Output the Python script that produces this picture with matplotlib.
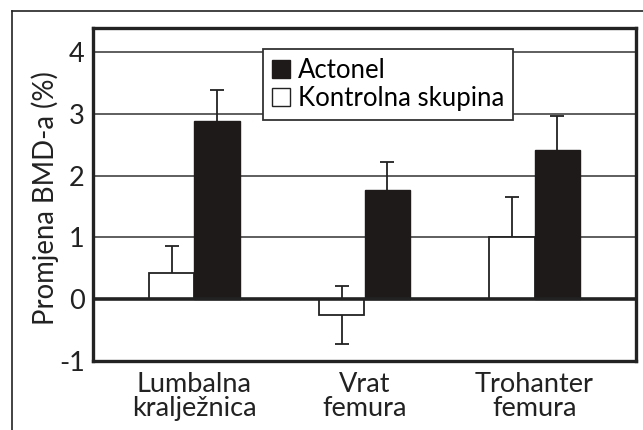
import matplotlib
matplotlib.use("Agg")
import matplotlib.pyplot as plt
from matplotlib.lines import Line2D
import matplotlib.patches as mpatches
import numpy as np

plt.rcParams['font.family'] = ['Lato', 'DejaVu Sans']

kategorije = ['Lumbalna\nkralježnica', 'Vrat\nfemura', 'Trohanter\nfemura']
kontrola = [0.43, -0.26, 1.00]
kontrola_err = [0.43, 0.47, 0.65]
actonel = [2.89, 1.76, 2.42]
actonel_err = [0.49, 0.46, 0.54]
yticks = [-1, 0, 1, 2, 3, 4]

fig = plt.figure(figsize=(6.43, 4.30), dpi=100)
ax = fig.add_axes([93 / 643, 1 - 361 / 430, 543 / 643, 333 / 430])

x = np.arange(len(kategorije))
w = 0.265

# grid behind everything
for yv in [1, 2, 3, 4]:
    ax.axhline(yv, color='#333333', lw=1.1, zorder=0)

ax.errorbar(x - w / 2, kontrola, yerr=kontrola_err, fmt='none', ecolor='#222222',
            elinewidth=1.3, capsize=5, capthick=1.3, zorder=1)
ax.errorbar(x + w / 2, actonel, yerr=actonel_err, fmt='none', ecolor='#222222',
            elinewidth=1.3, capsize=5, capthick=1.3, zorder=1)

ax.bar(x - w / 2, kontrola, w, color='white', edgecolor='#222222', lw=1.3, zorder=2)
ax.bar(x + w / 2, actonel, w, color='#1e1a1a', edgecolor='#1e1a1a', lw=1.0, zorder=2)

ax.axhline(0, color='#222222', lw=2.6, zorder=3)

ax.set_xlim(-0.597, 2.597)
ax.set_ylim(-0.985, 4.39)
ax.set_yticks(yticks)
ax.set_yticklabels([str(v) for v in yticks])
ax.set_xticks(x)
ax.set_xticklabels(kategorije, linespacing=0.95)
ax.tick_params(axis='both', length=0, labelsize=19.5, colors='#222222')
ax.tick_params(axis='y', pad=6)
ax.tick_params(axis='x', pad=8)
for s in ax.spines.values():
    s.set_linewidth(2.4)
    s.set_color('#222222')

ax.set_ylabel('Promjena BMD-a (%)', fontsize=19.8, color='#222222')
ax.yaxis.set_label_coords(-0.0626, 0.489)

black_patch = mpatches.Patch(facecolor='#1e1a1a', edgecolor='#1e1a1a', label='Actonel')
white_patch = mpatches.Patch(facecolor='white', edgecolor='#222222', lw=1.0, label='Kontrolna skupina')
leg = ax.legend(handles=[black_patch, white_patch], loc='upper left',
                bbox_to_anchor=(0.313, 0.937), borderaxespad=0, fontsize=18.5,
                handlelength=0.7, handleheight=0.7, handletextpad=0.3,
                labelspacing=0.1, borderpad=0.35, fancybox=False, framealpha=1,
                edgecolor='#333333')
leg.get_frame().set_linewidth(1.3)
leg.set_zorder(5)

# outer frame of the figure
fx = 12 / 643
fy = 1 - 10.5 / 430
fig.add_artist(Line2D([fx, fx], [0, fy], color='#222222', lw=1.2))
fig.add_artist(Line2D([fx, 1], [fy, fy], color='#222222', lw=1.2))

fig.savefig('out.png', dpi=100)
